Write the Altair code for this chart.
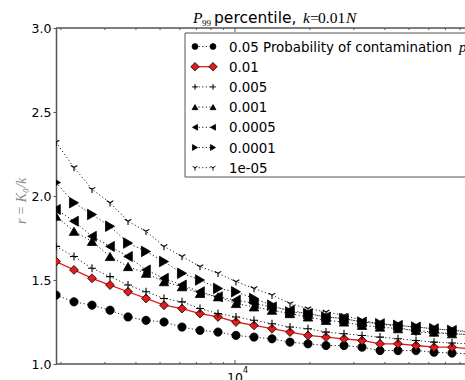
import altair as alt
import pandas as pd

# ---- data ----
N = [1910, 2256, 2665, 3148, 3718, 4391, 5186, 6125, 7234, 8545, 10090, 11920,
     14080, 16630, 19640, 23200, 27400, 32370, 38230, 45150, 53330, 63000, 74400,
     87880, 103800]

p_labels = ["0.05", "0.01", "0.005", "0.001", "0.0005", "0.0001", "1e-05"]

r_005 = [1.41, 1.37, 1.35, 1.32, 1.28, 1.26, 1.25, 1.22, 1.20, 1.19, 1.17, 1.16, 1.15,
         1.13, 1.12, 1.11, 1.11, 1.10, 1.08, 1.08, 1.08, 1.07, 1.065, 1.06, 1.06]
r_001 = [1.61, 1.56, 1.51, 1.47, 1.43, 1.39, 1.35, 1.33, 1.30, 1.28, 1.25, 1.23, 1.21,
         1.19, 1.17, 1.16, 1.15, 1.14, 1.12, 1.12, 1.11, 1.10, 1.10, 1.09, 1.09]
r_0005 = [1.70, 1.64, 1.57, 1.52, 1.47, 1.43, 1.39, 1.37, 1.33, 1.30, 1.28, 1.26, 1.24,
          1.22, 1.21, 1.19, 1.18, 1.17, 1.16, 1.15, 1.14, 1.13, 1.125, 1.12, 1.115]
r_0001 = [1.88, 1.79, 1.73, 1.64, 1.58, 1.54, 1.49, 1.46, 1.42, 1.40, 1.36, 1.34, 1.32,
          1.30, 1.28, 1.26, 1.25, 1.23, 1.22, 1.21, 1.20, 1.19, 1.18, 1.175, 1.17]
r_00005 = [1.92, 1.85, 1.76, 1.70, 1.64, 1.56, 1.51, 1.47, 1.43, 1.40, 1.38, 1.36, 1.34,
           1.32, 1.30, 1.28, 1.27, 1.25, 1.24, 1.23, 1.22, 1.21, 1.20, 1.195, 1.19]
r_00001 = [2.08, 1.96, 1.89, 1.82, 1.72, 1.67, 1.61, 1.54, 1.50, 1.45, 1.43, 1.39, 1.35,
           1.31, 1.30, 1.28, 1.27, 1.25, 1.24, 1.23, 1.22, 1.21, 1.20, 1.19, 1.185]
r_1e05 = [2.32, 2.17, 2.04, 1.96, 1.85, 1.79, 1.70, 1.64, 1.58, 1.54, 1.49, 1.45, 1.41,
          1.36, 1.33, 1.31, 1.29, 1.26, 1.24, 1.22, 1.19, 1.185, 1.18, 1.175, 1.17]

series = [r_005, r_001, r_0005, r_0001, r_00005, r_00001, r_1e05]

minor_ticks = [2000, 3000, 4000, 5000, 6000, 7000, 8000, 9000,
               20000, 30000, 40000, 50000, 60000, 70000, 80000]
major_ticks = [10000]
y_ticks = [1.0, 1.5, 2.0, 2.5, 3.0]

rows = []
for lab, vals in zip(p_labels, series):
    for n, v in zip(N, vals):
        rows.append({"N": n, "r": v, "p": lab})
df = pd.DataFrame(rows)

# ---- styling ----
W, H = 409, 336
AX = "#555555"
RED = "#e41a1c"
PLUS = "M-1,0L1,0M0,-1L0,1"
TRIDOWN = "M0,0L0,1M0,0L-0.866,-0.5M0,0L0.866,-0.5"
MATH = "Liberation Serif"

xscale = alt.Scale(type="log", domain=[1910, 83900], nice=False)
yscale = alt.Scale(domain=[1, 3], nice=False, zero=False)
yaxis = alt.Axis(values=y_ticks, format=".1f", tickSize=3, labelFontSize=12.5,
                 labelFont="DejaVu Sans", labelColor="black", domainColor=AX,
                 domainWidth=1.5, tickColor=AX, tickWidth=1, labelPadding=2,
                 grid=False, title=None, labelFlush=False)
X = alt.X("N:Q", scale=xscale, axis=None)
Y = alt.Y("r:Q", scale=yscale, axis=yaxis)

base = alt.Chart(df)
dotted = base.transform_filter(alt.datum.p != "0.01").mark_line(
    color="#222222", strokeWidth=1, strokeDash=[1.2, 2.4], clip=True
).encode(x=X, y=Y, detail="p:N")
redline = base.transform_filter(alt.datum.p == "0.01").mark_line(
    color=RED, strokeWidth=1.3, clip=True
).encode(x=X, y=Y)

filled_p = ["0.05", "0.01", "0.001", "0.0005", "0.0001"]
filled_shapes = ["circle", "diamond", "triangle-up", "triangle-left", "triangle-right"]
filled_cols = ["black", RED, "black", "black", "black"]
filled_sizes = [68, 110, 62, 62, 62]
pts_filled = base.transform_filter(
    alt.FieldOneOfPredicate(field="p", oneOf=filled_p)
).mark_point(filled=True, stroke="black", strokeWidth=0.8, opacity=1, clip=True).encode(
    x=X, y=Y,
    shape=alt.Shape("p:N", scale=alt.Scale(domain=filled_p, range=filled_shapes), legend=None),
    fill=alt.Fill("p:N", scale=alt.Scale(domain=filled_p, range=filled_cols), legend=None),
    size=alt.Size("p:N", scale=alt.Scale(domain=filled_p, range=filled_sizes), legend=None),
)
pts_plus = base.transform_filter(alt.datum.p == "0.005").mark_point(
    shape=PLUS, filled=False, color="black", strokeWidth=1.1, opacity=1, size=64, clip=True
).encode(x=X, y=Y)
pts_tri = base.transform_filter(alt.datum.p == "1e-05").mark_point(
    shape=TRIDOWN, filled=False, color="black", strokeWidth=1.1, opacity=1, size=58, clip=True
).encode(x=X, y=Y)

one = pd.DataFrame({"k": [0]})


def rule(x, x2, y, y2, **kw):
    return alt.Chart(one).mark_rule(**kw).encode(
        x=alt.value(x), x2=alt.value(x2), y=alt.value(y), y2=alt.value(y2))


def text(s, x, y, **kw):
    opts = dict(align="left", baseline="alphabetic", font="DejaVu Sans", fontSize=13.4, color="black")
    opts.update(kw)
    return alt.Chart(one).mark_text(text=s, **opts).encode(x=alt.value(x), y=alt.value(y))


def marker(shape, x, y, fill, size, stroked=False):
    if stroked:
        m = alt.Chart(one).mark_point(shape=shape, filled=False, color="black", size=size,
                                      strokeWidth=1, opacity=1)
    else:
        m = alt.Chart(one).mark_point(shape=shape, filled=True, fill=fill, stroke="black",
                                      strokeWidth=0.8, size=size, opacity=1)
    return m.encode(x=alt.value(x), y=alt.value(y))


spines = [
    rule(0, W, H, H, color=AX, strokeWidth=1.5),
    rule(0, W, 0, 0, color=AX, strokeWidth=1.5),
]

tdf_minor = pd.DataFrame({"t": minor_ticks})
tdf_major = pd.DataFrame({"t": major_ticks})
ticks = []
for tdf, ln in [(tdf_minor, 2), (tdf_major, 4)]:
    ticks.append(alt.Chart(tdf).mark_rule(color=AX, strokeWidth=1).encode(
        x=alt.X("t:Q", scale=xscale, axis=None), y=alt.value(H), y2=alt.value(H - ln)))
    ticks.append(alt.Chart(tdf).mark_rule(color=AX, strokeWidth=1).encode(
        x=alt.X("t:Q", scale=xscale, axis=None), y=alt.value(0), y2=alt.value(ln)))

# legend
legend = [alt.Chart(one).mark_rect(fill="white", stroke=AX, strokeWidth=1).encode(
    x=alt.value(129), x2=alt.value(430), y=alt.value(5), y2=alt.value(149))]
leg_shapes = ["circle", "diamond", PLUS, "triangle-up", "triangle-left", "triangle-right", TRIDOWN]
leg_fill = ["black", RED, None, "black", "black", "black", None]
leg_size = [34, 70, 32, 34, 34, 34, 32]
for i, lab in enumerate(p_labels):
    yy = 18.5 + 20.2 * i
    if lab == "0.01":
        legend.append(rule(139, 157, yy, yy, color=RED, strokeWidth=1.3))
    else:
        legend.append(rule(139, 157, yy, yy, color="#222222", strokeWidth=1, strokeDash=[1.2, 2.4]))
    stroked = leg_fill[i] is None
    for mx in (139, 157):
        legend.append(marker(leg_shapes[i], mx, yy, leg_fill[i], leg_size[i], stroked))
    label = lab + " Probability of contamination" if i == 0 else lab
    legend.append(text(label, 173, yy + 5))
legend.append(text("p", 403, 18.5 + 5, font=MATH, fontStyle="italic", fontSize=15))

# title
TS = 15.5
title = [
    text("P", 137, -5, font=MATH, fontStyle="italic", fontSize=TS),
    text("99", 146, -2, font=MATH, fontSize=9),
    text("percentile,", 158, -5, fontSize=TS),
    text("k", 247, -5, font=MATH, fontStyle="italic", fontSize=TS),
    text("=", 254, -5, font=MATH, fontSize=TS),
    text("0.01", 262, -5, font=MATH, fontSize=TS),
    text("N", 290, -5, font=MATH, fontStyle="italic", fontSize=TS),
]

# axis texts
axis_texts = [
    text("10", 179, 344, align="center", baseline="top", fontSize=12.5),
    text("4", 187, 339, baseline="top", fontSize=8),
    alt.Chart(one).mark_text(text="r = K₀/k", angle=270, font=MATH,
                             fontStyle="italic", fontSize=14, color="#8a8a8a",
                             align="center", baseline="middle").encode(
        x=alt.value(-34), y=alt.value(173)),
]

chart = alt.layer(
    dotted, redline, pts_filled, pts_plus, pts_tri, *spines, *ticks, *legend, *title, *axis_texts
).properties(
    width=W, height=H,
    padding={"left": 56, "top": 28, "right": 0, "bottom": 16},
    autosize=alt.AutoSizeParams(type="none"),
    background="white",
).configure_view(stroke=None)

chart.save("out.html", embed_options={"renderer": "svg", "actions": False})
